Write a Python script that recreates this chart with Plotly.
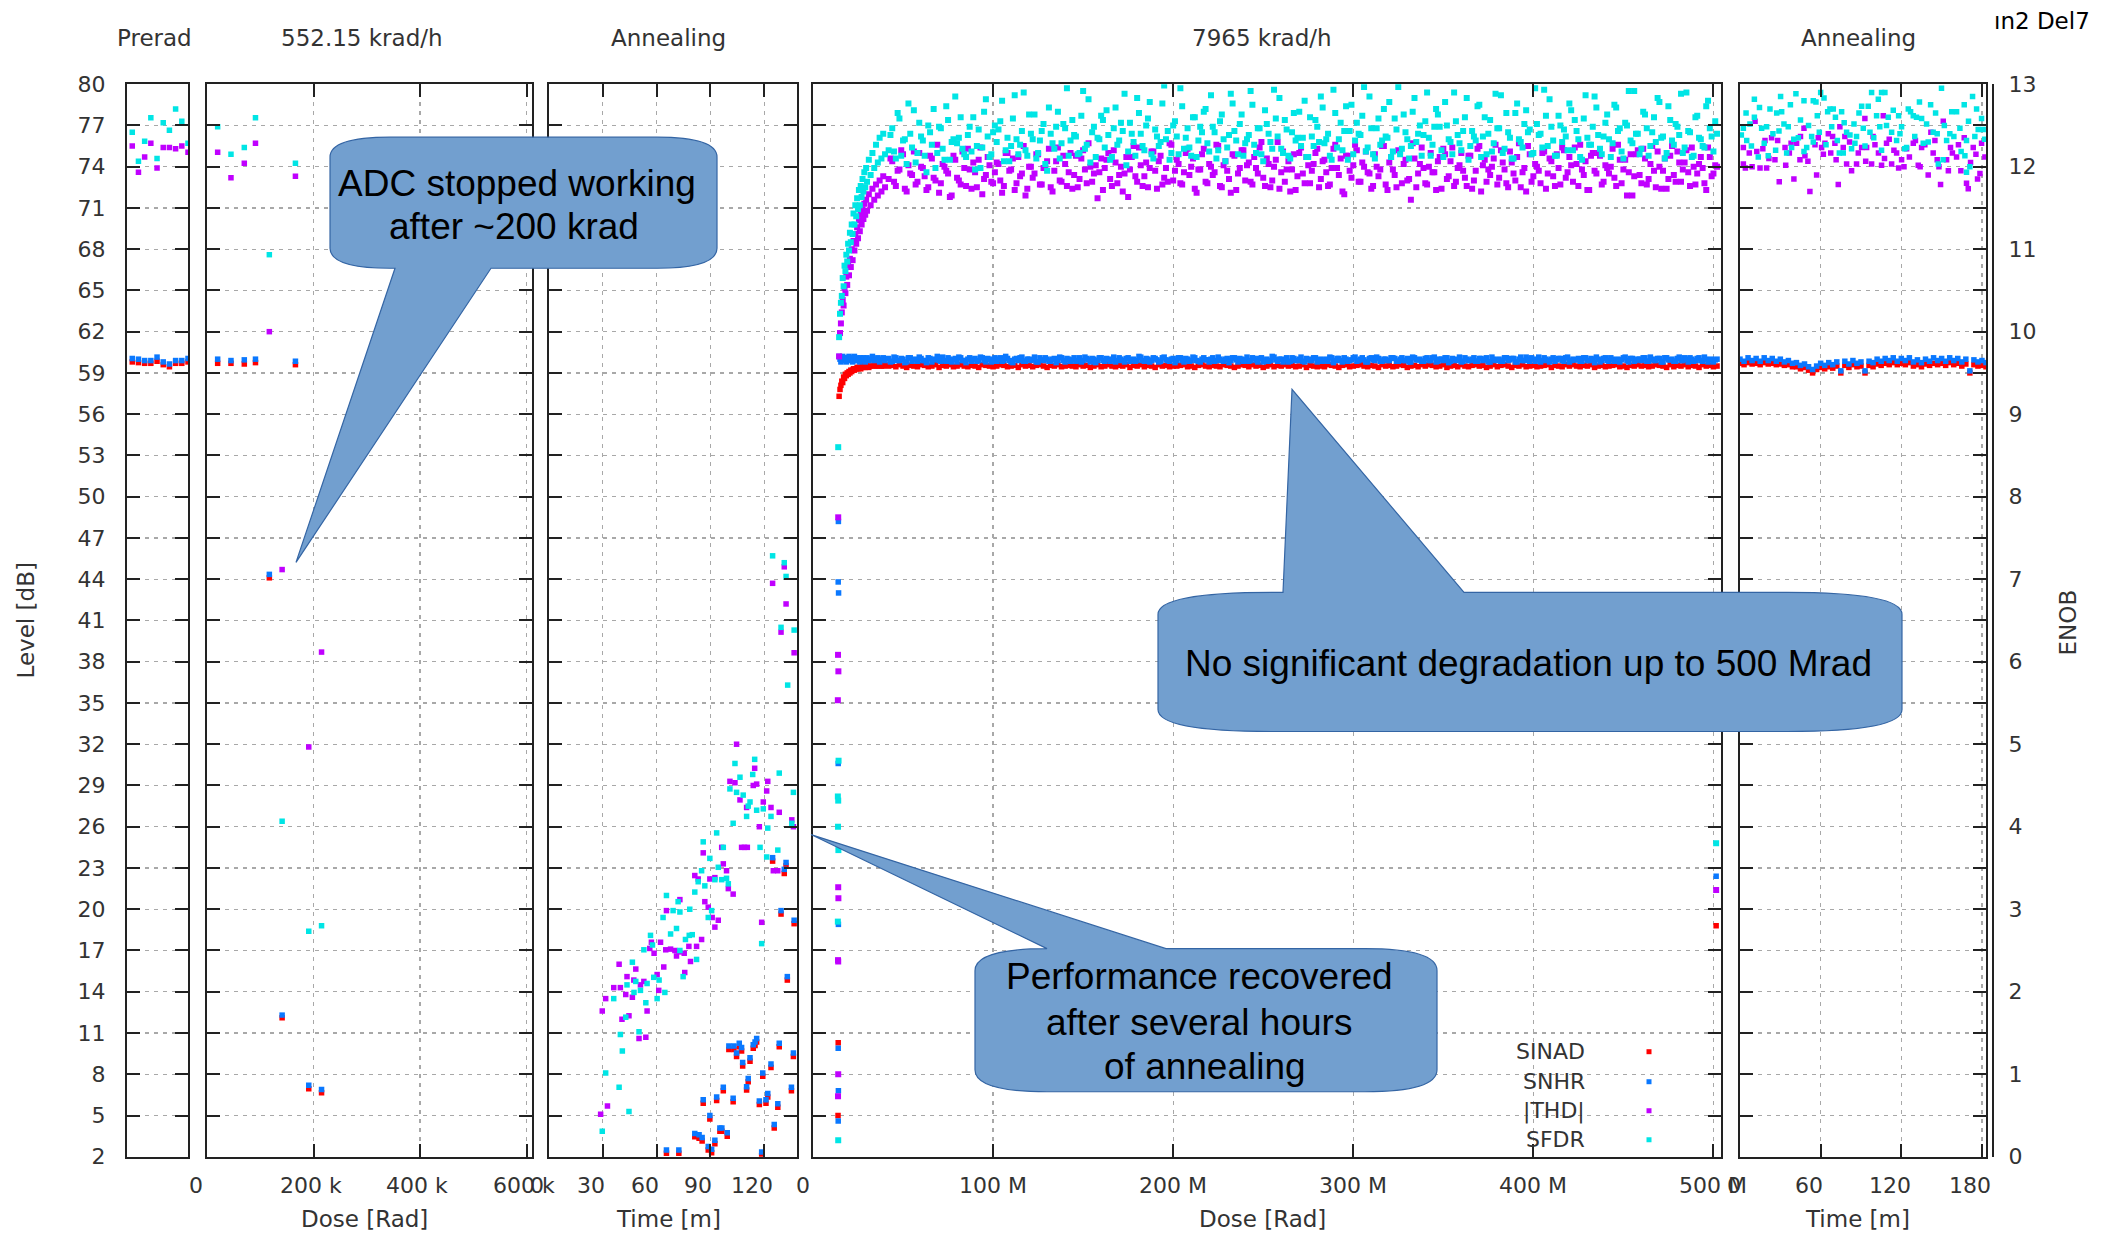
import plotly.graph_objects as go

# ---------------------------------------------------------------- data ----
SERIES = ["SINAD", "SNHR", "|THD|", "SFDR"]
COLORS = {"SINAD": "#ff0000", "SNHR": "#0a78ff", "|THD|": "#c000ff", "SFDR": "#00e5e5"}

level_ticks = [2, 5, 8, 11, 14, 17, 20, 23, 26, 29, 32, 35, 38, 41, 44, 47,
               50, 53, 56, 59, 62, 65, 68, 71, 74, 77, 80]
enob_ticks = [0, 1, 2, 3, 4, 5, 6, 7, 8, 9, 10, 11, 12, 13]

dose_lo_ticks = [0, 200, 400, 600]
dose_lo_labels = ["0", "200 k", "400 k", "600 k"]
ann1_ticks = [0, 30, 60, 90, 120]
ann1_labels = ["0", "30", "60", "90", "120"]
dose_hi_ticks = [0, 100, 200, 300, 400, 500]
dose_hi_labels = ["0", "100 M", "200 M", "300 M", "400 M", "500 M"]
ann2_ticks = [0, 60, 120, 180]
ann2_labels = ["0", "60", "120", "180"]

# pre-irradiation reference measurements (sample index)
prerad_idx = [1, 2, 3, 4, 5, 6, 7, 8, 9, 10]
prerad_sinad = [59.8, 59.75, 59.7, 59.7, 59.85, 59.6, 59.45, 59.7, 59.7, 59.8]
prerad_snhr = [60.05, 60.0, 59.9, 59.9, 60.15, 59.8, 59.65, 59.9, 59.9, 60.05]
prerad_thd = [75.5, 73.6, 74.7, 75.7, 73.9, 75.4, 75.4, 75.3, 75.5, 75.05]
prerad_sfdr = [76.5, 74.4, 75.85, 77.55, 74.6, 77.2, 76.65, 78.2, 77.3, 75.7]

# 552.15 krad/h run, dose in krad
lo_dose = [20, 45, 70, 91, 117, 141, 166, 191, 215]
lo_sinad = [59.7, 59.7, 59.65, 59.75, 44.1, 12.1, 59.6, 6.95, 6.65]
lo_snhr = [60.0, 59.9, 59.95, 60.0, 44.35, 12.3, 59.85, 7.2, 6.9]
lo_thd = [75.05, 73.2, 74.25, 75.7, 62.0, 44.7, 73.3, 31.8, 38.7]
lo_sfdr = [76.9, 74.9, 75.4, 77.55, 67.6, 26.4, 74.25, 18.4, 18.8]

# first annealing, (minutes, dB)
ann1_snhr = [(124.7, 23.75), (132.2, 23.4), (131.2, 22.9), (129.4, 19.9), (136.7, 19.2),
             (132.9, 15.1), (100.3, 10.05), (103.1, 10.05), (106.1, 10.25), (107.4, 9.95),
             (104.6, 9.55), (113.9, 10.15), (114.9, 10.35), (115.8, 10.6), (128.4, 10.25),
             (136.3, 9.55), (112.1, 9.2), (108.0, 8.85), (123.8, 8.75), (119.2, 8.1),
             (111.1, 7.7), (110.2, 7.1), (97.2, 7.05), (135.2, 7.05), (122.0, 6.6),
             (93.5, 6.35), (102.7, 6.25), (86.0, 6.15), (117.3, 6.05), (121.0, 6.15),
             (127.6, 5.85), (89.7, 5.0), (125.6, 4.35), (95.3, 4.1), (96.4, 4.1),
             (99.4, 3.75), (81.3, 3.7), (83.7, 3.6), (85.4, 3.4), (92.5, 3.2),
             (88.8, 2.75), (90.7, 2.55), (65.5, 2.5), (72.4, 2.5), (118.6, 2.35)]
ann1_sinad = [(124.7, 23.5), (132.2, 23.15), (131.2, 22.6), (129.4, 19.65), (136.7, 18.95),
              (132.9, 14.85), (100.3, 9.8), (103.1, 9.8), (106.1, 10.0), (107.4, 9.7),
              (104.6, 9.3), (113.9, 9.9), (114.9, 10.1), (115.8, 10.35), (128.4, 10.0),
              (136.3, 9.3), (112.1, 8.95), (108.0, 8.6), (123.8, 8.5), (119.2, 7.85),
              (111.1, 7.45), (110.2, 6.85), (97.2, 6.8), (135.2, 6.8), (122.0, 6.35),
              (93.5, 6.1), (102.7, 6.0), (86.0, 5.9), (117.3, 5.8), (121.0, 5.9),
              (127.6, 5.6), (89.7, 4.75), (125.6, 4.1), (95.3, 3.85), (96.4, 3.85),
              (99.4, 3.5), (81.3, 3.45), (83.7, 3.35), (85.4, 3.15), (92.5, 2.95),
              (88.8, 2.5), (90.7, 2.3), (65.5, 2.25), (72.4, 2.25), (118.6, 2.1)]
ann1_thd = [(131.2, 44.9), (124.7, 43.7), (132.2, 42.2), (129.4, 40.15), (136.7, 38.65),
            (104.6, 32.0), (114.7, 30.25), (100.9, 29.3), (103.7, 29.2), (113.9, 29.0),
            (115.8, 29.1), (122.0, 29.3), (121.4, 28.6), (106.5, 27.95), (119.5, 27.8),
            (110.2, 27.4), (123.8, 27.4), (128.4, 27.05), (135.4, 26.5), (136.3, 26.0),
            (117.3, 26.0), (96.3, 24.5), (107.4, 24.5), (109.0, 24.5), (110.6, 24.5),
            (86.0, 24.1), (97.2, 23.3), (99.0, 22.8), (81.3, 22.45), (83.2, 22.2),
            (89.7, 22.2), (92.5, 22.3), (125.1, 22.8), (127.6, 22.8), (100.0, 21.5),
            (102.7, 21.1), (73.0, 20.7), (86.9, 20.55), (65.5, 19.9), (88.8, 20.15),
            (91.0, 19.4), (94.4, 19.2), (92.5, 18.7), (85.1, 17.8), (118.6, 19.05),
            (57.1, 17.6), (62.2, 17.6), (56.2, 17.15), (65.1, 17.05), (67.8, 17.1),
            (70.2, 17.0), (72.6, 16.9), (71.1, 16.6), (75.4, 16.8), (78.0, 17.3),
            (82.3, 17.3), (78.9, 16.2), (58.6, 16.8), (39.1, 16.0), (48.4, 15.65),
            (64.0, 15.8), (75.7, 15.4), (60.3, 15.25), (43.5, 15.1), (47.3, 14.85),
            (52.9, 14.75), (51.0, 14.5), (36.1, 14.3), (39.8, 14.3), (42.8, 13.8),
            (46.5, 13.6), (61.2, 14.1), (31.6, 13.5), (29.7, 12.6), (40.7, 12.0),
            (44.6, 12.25), (54.7, 12.6), (50.2, 10.6), (54.0, 10.7), (32.6, 5.7),
            (28.8, 5.1)]
ann1_sfdr = [(124.7, 45.7), (131.2, 45.2), (132.2, 44.2), (129.4, 40.5), (136.7, 40.3),
             (133.1, 36.3), (103.7, 30.6), (114.7, 30.9), (106.5, 29.6), (113.6, 29.8),
             (128.4, 29.9), (100.9, 28.75), (104.6, 28.5), (108.3, 28.3), (112.1, 27.8),
             (136.3, 28.5), (111.1, 27.5), (115.8, 27.2), (119.5, 27.3), (110.2, 26.75),
             (123.8, 26.75), (102.7, 26.25), (135.4, 26.25), (122.0, 25.9), (93.5, 25.55),
             (86.0, 24.9), (97.2, 24.5), (117.7, 24.5), (127.6, 24.3), (89.7, 23.7),
             (121.4, 23.8), (94.4, 23.05), (85.1, 22.8), (83.2, 22.0), (86.9, 21.7),
             (92.5, 22.15), (96.3, 22.15), (99.0, 22.25), (100.0, 21.85), (81.3, 21.25),
             (65.5, 21.0), (72.0, 20.55), (69.2, 19.9), (78.5, 20.0), (73.0, 19.8),
             (90.7, 19.9), (63.6, 19.4), (88.8, 19.4), (71.1, 18.6), (56.6, 18.1),
             (67.8, 18.2), (76.1, 17.8), (79.9, 18.15), (78.2, 18.1), (57.7, 17.4),
             (52.9, 17.05), (73.0, 17.0), (82.3, 16.35), (46.5, 16.15), (58.4, 15.05),
             (61.4, 14.85), (43.5, 14.5), (48.4, 14.75), (74.8, 15.1), (47.4, 13.95),
             (51.0, 14.1), (54.7, 14.6), (36.1, 13.5), (64.6, 13.95), (54.0, 13.2),
             (60.3, 13.5), (42.8, 12.15), (39.8, 10.9), (50.2, 11.1), (40.9, 9.7),
             (31.6, 8.1), (39.1, 7.05), (44.6, 5.3), (29.7, 3.85), (118.6, 17.5)]

# 7965 krad/h run, dose in Mrad: recovery part
hi_rise_dose = [14.5, 15, 15.5, 16, 16.5, 17, 17.5, 18, 18.5, 19, 19.5, 20, 20.5, 21, 21.5, 22,
                22.5, 23, 23.5, 24, 24.5, 25, 25.5, 26, 26.5, 27, 27.5, 28, 28.5, 29, 29.5, 30,
                31, 32, 33, 34, 35, 36, 37, 38, 39, 40]
hi_rise_sinad = [57.3, 57.8, 58.1, 58.4, 58.3, 58.7, 58.6, 58.9, 58.8, 59.0, 58.9, 59.1, 59.0, 59.2,
                 59.1, 59.2, 59.3, 59.2, 59.3, 59.3, 59.4, 59.3, 59.4, 59.4, 59.3, 59.4, 59.5, 59.4,
                 59.5, 59.4, 59.5, 59.5, 59.4, 59.5, 59.5, 59.6, 59.5, 59.5, 59.6, 59.5, 59.5, 59.6]
hi_rise_snhr = [60.2, 60.0, 59.8, 60.1, 60.2, 59.9, 60.1, 60.0, 59.8, 60.1, 60.0, 60.2, 59.9, 60.0,
                60.1, 59.8, 60.0, 60.2, 59.9, 60.0, 60.1, 59.9, 60.0, 59.8, 60.1, 60.0, 59.9, 60.1,
                60.0, 59.8, 60.0, 60.1, 59.9, 60.0, 60.2, 59.9, 60.0, 60.1, 59.8, 60.0, 60.1, 59.9]
hi_rise_thd = [60.2, 61.9, 62.6, 63.4, 64.3, 63.9, 65.2, 64.8, 66.0, 65.4, 66.8, 66.1, 67.3, 66.7,
               68.0, 67.2, 68.6, 67.9, 69.1, 68.4, 69.6, 68.8, 70.1, 69.3, 70.5, 69.8, 70.9, 70.2,
               71.3, 70.5, 71.6, 70.8, 72.0, 71.2, 72.4, 71.6, 72.7, 71.9, 73.0, 72.2, 73.3, 72.5]
hi_rise_sfdr = [61.6, 63.3, 64.1, 64.6, 65.9, 65.3, 66.8, 66.4, 67.6, 67.1, 68.4, 67.9, 69.2, 68.5,
                69.8, 69.1, 70.6, 69.8, 71.2, 70.4, 71.7, 70.9, 72.3, 71.2, 72.6, 71.8, 73.1, 72.2,
                73.6, 72.5, 73.9, 72.9, 74.5, 73.4, 75.0, 73.9, 75.6, 74.3, 76.1, 74.6, 76.4, 74.9]

# 7965 krad/h run: steady part, even-dose sweeps
hi_dose = [42, 44, 46, 48, 50, 52, 54, 56, 58, 60,
           62, 64, 66, 68, 70, 72, 74, 76, 78, 80,
           82, 84, 86, 88, 90, 92, 94, 96, 98, 100,
           102, 104, 106, 108, 110, 112, 114, 116, 118, 120,
           122, 124, 126, 128, 130, 132, 134, 136, 138, 140,
           142, 144, 146, 148, 150, 152, 154, 156, 158, 160,
           162, 164, 166, 168, 170, 172, 174, 176, 178, 180,
           182, 184, 186, 188, 190, 192, 194, 196, 198, 200,
           202, 204, 206, 208, 210, 212, 214, 216, 218, 220,
           222, 224, 226, 228, 230, 232, 234, 236, 238, 240,
           242, 244, 246, 248, 250, 252, 254, 256, 258, 260,
           262, 264, 266, 268, 270, 272, 274, 276, 278, 280,
           282, 284, 286, 288, 290, 292, 294, 296, 298, 300,
           302, 304, 306, 308, 310, 312, 314, 316, 318, 320,
           322, 324, 326, 328, 330, 332, 334, 336, 338, 340,
           342, 344, 346, 348, 350, 352, 354, 356, 358, 360,
           362, 364, 366, 368, 370, 372, 374, 376, 378, 380,
           382, 384, 386, 388, 390, 392, 394, 396, 398, 400,
           402, 404, 406, 408, 410, 412, 414, 416, 418, 420,
           422, 424, 426, 428, 430, 432, 434, 436, 438, 440,
           442, 444, 446, 448, 450, 452, 454, 456, 458, 460,
           462, 464, 466, 468, 470, 472, 474, 476, 478, 480,
           482, 484, 486, 488, 490, 492, 494, 496, 498, 500,
           502]
hi_sinad = [59.5, 59.55, 59.45, 59.6, 59.5, 59.4, 59.55, 59.5, 59.45, 59.6,
            59.55, 59.45, 59.5, 59.6, 59.4, 59.55, 59.5, 59.6, 59.45, 59.5,
            59.6, 59.5, 59.45, 59.55, 59.5, 59.4, 59.6, 59.55, 59.5, 59.45,
            59.5, 59.6, 59.55, 59.45, 59.5, 59.55, 59.4, 59.6, 59.5, 59.55,
            59.45, 59.55, 59.6, 59.5, 59.4, 59.55, 59.5, 59.6, 59.45, 59.5,
            59.55, 59.5, 59.45, 59.6, 59.5, 59.55, 59.4, 59.5, 59.6, 59.45,
            59.5, 59.6, 59.5, 59.45, 59.55, 59.5, 59.6, 59.4, 59.55, 59.5,
            59.6, 59.45, 59.55, 59.5, 59.4, 59.6, 59.5, 59.55, 59.45, 59.5,
            59.5, 59.55, 59.6, 59.45, 59.5, 59.4, 59.55, 59.6, 59.5, 59.45,
            59.55, 59.5, 59.45, 59.6, 59.55, 59.5, 59.4, 59.5, 59.6, 59.55,
            59.45, 59.6, 59.5, 59.55, 59.4, 59.5, 59.6, 59.45, 59.55, 59.5,
            59.6, 59.5, 59.55, 59.45, 59.5, 59.6, 59.4, 59.55, 59.5, 59.45,
            59.5, 59.45, 59.6, 59.55, 59.5, 59.4, 59.55, 59.6, 59.45, 59.5,
            59.55, 59.6, 59.5, 59.45, 59.55, 59.5, 59.4, 59.6, 59.5, 59.55,
            59.45, 59.5, 59.6, 59.55, 59.4, 59.5, 59.55, 59.45, 59.6, 59.5,
            59.6, 59.55, 59.45, 59.5, 59.6, 59.4, 59.5, 59.55, 59.45, 59.6,
            59.5, 59.45, 59.55, 59.6, 59.5, 59.55, 59.4, 59.5, 59.6, 59.45,
            59.55, 59.6, 59.5, 59.4, 59.55, 59.5, 59.6, 59.45, 59.5, 59.55,
            59.45, 59.5, 59.55, 59.6, 59.4, 59.55, 59.5, 59.45, 59.6, 59.5,
            59.6, 59.5, 59.45, 59.55, 59.5, 59.6, 59.4, 59.5, 59.55, 59.45,
            59.5, 59.55, 59.6, 59.45, 59.5, 59.4, 59.55, 59.5, 59.6, 59.5,
            59.55, 59.45, 59.5, 59.6, 59.55, 59.5, 59.4, 59.6, 59.45, 59.55,
            59.5, 59.6, 59.45, 59.55, 59.5, 59.4, 59.6, 59.5, 59.55, 59.45,
            59.5]
hi_snhr = [60.05, 59.85, 60.1, 59.9, 60.0, 59.8, 60.1, 59.95, 59.85, 60.05,
           59.9, 60.1, 59.8, 60.0, 59.9, 60.15, 59.85, 60.0, 59.95, 59.8,
           60.1, 59.9, 60.0, 59.85, 60.05, 59.9, 60.1, 59.8, 60.0, 59.95,
           59.85, 60.1, 59.9, 60.05, 59.8, 60.0, 59.9, 60.15, 59.85, 60.0,
           59.95, 59.8, 60.1, 59.9, 60.0, 59.85, 60.05, 59.9, 60.1, 59.8,
           60.0, 59.95, 59.85, 60.1, 59.9, 60.05, 59.8, 60.0, 59.9, 60.1,
           59.85, 60.0, 59.95, 59.8, 60.1, 59.9, 60.05, 59.85, 60.0, 59.9,
           60.15, 59.85, 60.0, 59.9, 60.05, 59.8, 60.1, 59.95, 59.85, 60.05,
           59.9, 60.1, 59.8, 60.0, 59.9, 60.1, 59.85, 60.0, 59.95, 59.8,
           60.1, 59.9, 60.0, 59.85, 60.05, 59.9, 60.1, 59.8, 60.0, 59.95,
           59.85, 60.1, 59.9, 60.05, 59.8, 60.0, 59.9, 60.15, 59.85, 60.0,
           59.95, 59.8, 60.1, 59.9, 60.0, 59.85, 60.05, 59.9, 60.1, 59.8,
           60.0, 59.95, 59.85, 60.1, 59.9, 60.05, 59.8, 60.0, 59.9, 60.1,
           59.85, 60.0, 59.95, 59.8, 60.1, 59.9, 60.05, 59.85, 60.0, 59.9,
           60.1, 59.85, 60.0, 59.9, 60.05, 59.8, 60.1, 59.95, 59.85, 60.05,
           59.9, 60.1, 59.8, 60.0, 59.9, 60.1, 59.85, 60.0, 59.95, 59.8,
           60.1, 59.9, 60.0, 59.85, 60.05, 59.9, 60.1, 59.8, 60.0, 59.95,
           59.85, 60.1, 59.9, 60.05, 59.8, 60.0, 59.9, 60.15, 59.85, 60.0,
           59.95, 59.8, 60.1, 59.9, 60.0, 59.85, 60.05, 59.9, 60.1, 59.8,
           60.0, 59.95, 59.85, 60.1, 59.9, 60.05, 59.75, 60.0, 59.9, 60.1,
           59.85, 60.0, 59.95, 59.8, 60.1, 59.9, 60.05, 59.85, 60.0, 59.9,
           60.1, 59.85, 60.0, 59.9, 60.05, 59.8, 60.1, 59.95, 59.85, 60.05,
           59.9, 60.1, 59.8, 60.0, 59.9, 60.1, 59.85, 60.0, 59.95, 59.8,
           60.0]
hi_thd = [73.1, 74.4, 72.6, 73.8, 74.9, 72.2, 73.5, 75.1, 72.9, 74.0,
          73.3, 72.5, 74.6, 73.0, 72.1, 74.2, 73.7, 71.8, 74.8, 73.2,
          72.7, 73.9, 75.3, 72.4, 73.6, 74.5, 72.0, 73.4, 74.1, 72.8,
          74.3, 73.0, 72.6, 75.0, 73.8, 72.3, 74.7, 73.5, 71.9, 74.0,
          73.2, 74.9, 72.7, 73.9, 74.4, 72.5, 73.7, 75.4, 72.9, 74.2,
          73.6, 72.4, 74.8, 73.1, 75.2, 72.8, 74.0, 73.5, 71.7, 74.6,
          73.9, 75.0, 72.6, 74.3, 73.4, 72.2, 74.7, 73.8, 75.5, 72.9,
          74.1, 73.3, 72.5, 75.1, 73.7, 74.4, 72.7, 73.9, 75.7, 73.0,
          74.5, 72.8, 73.6, 75.3, 74.0, 72.4, 73.8, 74.9, 72.9, 74.2,
          73.4, 75.6, 72.6, 74.1, 73.7, 72.1, 74.8, 73.5, 75.2, 73.0,
          74.3, 72.7, 73.9, 75.4, 73.2, 74.6, 72.5, 74.0, 75.8, 73.6,
          72.9, 74.4, 73.8, 72.3, 75.0, 73.5, 74.7, 72.8, 74.2, 75.3,
          73.1, 74.5, 72.6, 73.9, 75.6, 73.4, 72.2, 74.8, 73.7, 74.1,
          75.2, 72.9, 74.0, 73.6, 72.4, 74.9, 73.3, 75.5, 72.7, 74.3,
          73.8, 72.5, 75.1, 74.2, 73.0, 71.6, 74.6, 73.5, 75.4, 72.8,
          74.0, 73.6, 72.3, 74.7, 75.3, 73.1, 74.4, 72.6, 73.9, 75.0,
          73.2, 74.8, 72.4, 73.7, 75.5, 74.1, 72.9, 73.4, 74.6, 72.7,
          75.2, 73.8, 72.5, 74.3, 73.0, 75.7, 73.6, 72.2, 74.9, 73.3,
          74.0, 72.8, 75.1, 73.5, 74.4, 72.6, 73.9, 75.4, 73.2, 74.7,
          72.9, 74.2, 75.6, 73.4, 72.3, 74.8, 73.7, 75.0, 72.7, 74.1,
          73.5, 75.3, 72.6, 74.5, 73.8, 71.9, 74.9, 73.3, 75.2, 72.8,
          74.6, 73.1, 75.5, 72.5, 74.0, 73.7, 72.4, 74.8, 73.4, 75.1,
          72.9, 74.3, 73.6, 75.4, 72.7, 74.2, 73.9, 72.3, 74.7, 73.5,
          74.0]
hi_sfdr = [75.2, 76.8, 74.6, 77.5, 75.9, 74.2, 76.4, 78.1, 75.0, 76.2,
           74.8, 77.0, 75.6, 73.9, 76.9, 75.3, 78.4, 74.5, 76.0, 75.7,
           77.6, 74.9, 76.3, 75.1, 73.8, 76.7, 75.4, 78.9, 74.7, 76.5,
           75.8, 77.3, 74.4, 76.1, 75.5, 79.2, 74.9, 76.6, 75.2, 77.8,
           76.0, 74.6, 75.9, 77.1, 73.7, 76.4, 75.3, 78.0, 75.7, 76.8,
           74.8, 77.4, 76.2, 75.0, 79.5, 75.6, 74.3, 76.9, 76.1, 77.7,
           75.4, 76.3, 74.7, 78.3, 75.9, 76.6, 74.1, 77.2, 75.8, 79.0,
           76.4, 75.2, 77.5, 74.9, 76.7, 75.5, 78.6, 76.0, 74.5, 77.0,
           76.2, 79.7, 75.3, 76.8, 74.8, 77.6, 75.9, 76.5, 78.2, 75.1,
           76.9, 74.6, 77.3, 76.0, 75.4, 79.3, 76.6, 74.9, 77.8, 75.7,
           76.3, 78.5, 75.0, 76.8, 74.4, 77.1, 75.8, 79.6, 76.2, 75.3,
           77.4, 74.8, 76.5, 75.9, 78.0, 76.1, 74.7, 77.6, 75.5, 76.9,
           79.1, 75.7, 76.4, 74.5, 77.9, 76.0, 75.2, 78.4, 76.6, 74.9,
           77.2, 76.3, 79.8, 75.4, 76.8, 74.6, 77.5, 75.9, 76.2, 78.7,
           75.1, 76.7, 74.9, 77.8, 76.0, 75.5, 79.0, 76.4, 74.8, 77.3,
           76.1, 75.6, 78.2, 76.9, 74.7, 77.0, 75.8, 79.4, 76.3, 75.2,
           77.6, 74.5, 76.6, 75.9, 78.5, 76.2, 74.9, 77.4, 75.7, 76.8,
           79.2, 75.3, 76.5, 74.6, 77.9, 76.0, 75.4, 78.1, 76.7, 75.0,
           77.1, 76.4, 79.6, 75.5, 76.9, 74.8, 77.7, 75.8, 76.2, 78.6,
           75.2, 76.6, 74.7, 77.5, 76.1, 75.6, 79.1, 76.3, 74.9, 77.2,
           76.0, 75.7, 78.3, 76.8, 74.6, 77.0, 75.9, 79.5, 76.4, 75.3,
           77.8, 74.8, 76.5, 75.8, 78.7, 76.2, 75.0, 77.4, 75.6, 76.9,
           79.3, 75.4, 76.6, 74.7, 77.6, 76.1, 75.5, 78.4, 76.8, 75.1,
           76.4]

# 7965 krad/h run: steady part, odd-dose sweeps
hi_dose_b = [43, 45, 47, 49, 51, 53, 55, 57, 59, 61,
             63, 65, 67, 69, 71, 73, 75, 77, 79, 81,
             83, 85, 87, 89, 91, 93, 95, 97, 99, 101,
             103, 105, 107, 109, 111, 113, 115, 117, 119, 121,
             123, 125, 127, 129, 131, 133, 135, 137, 139, 141,
             143, 145, 147, 149, 151, 153, 155, 157, 159, 161,
             163, 165, 167, 169, 171, 173, 175, 177, 179, 181,
             183, 185, 187, 189, 191, 193, 195, 197, 199, 201,
             203, 205, 207, 209, 211, 213, 215, 217, 219, 221,
             223, 225, 227, 229, 231, 233, 235, 237, 239, 241,
             243, 245, 247, 249, 251, 253, 255, 257, 259, 261,
             263, 265, 267, 269, 271, 273, 275, 277, 279, 281,
             283, 285, 287, 289, 291, 293, 295, 297, 299, 301,
             303, 305, 307, 309, 311, 313, 315, 317, 319, 321,
             323, 325, 327, 329, 331, 333, 335, 337, 339, 341,
             343, 345, 347, 349, 351, 353, 355, 357, 359, 361,
             363, 365, 367, 369, 371, 373, 375, 377, 379, 381,
             383, 385, 387, 389, 391, 393, 395, 397, 399, 401,
             403, 405, 407, 409, 411, 413, 415, 417, 419, 421,
             423, 425, 427, 429, 431, 433, 435, 437, 439, 441,
             443, 445, 447, 449, 451, 453, 455, 457, 459, 461,
             463, 465, 467, 469, 471, 473, 475, 477, 479, 481,
             483, 485, 487, 489, 491, 493, 495, 497, 499, 501]
hi_snhr_b = [59.8, 60.15, 59.9, 60.05, 59.75, 60.1, 59.85, 60.0, 60.15, 59.9,
             59.75, 60.05, 59.95, 60.2, 59.85, 59.9, 60.1, 59.8, 60.05, 60.15,
             59.9, 59.75, 60.1, 60.0, 59.85, 60.15, 59.9, 60.05, 59.8, 60.1,
             60.0, 59.85, 60.2, 59.9, 59.75, 60.05, 60.1, 59.85, 60.0, 59.9,
             60.15, 59.8, 59.95, 60.1, 59.85, 60.0, 59.75, 60.15, 59.9, 60.05,
             59.85, 60.1, 59.9, 59.8, 60.15, 59.95, 60.05, 59.75, 60.1, 59.9,
             60.05, 59.85, 60.15, 59.9, 60.0, 59.8, 60.1, 59.95, 59.85, 60.2,
             59.9, 60.05, 59.8, 60.1, 59.95, 59.85, 60.15, 59.9, 60.0, 59.75,
             60.1, 59.9, 60.05, 59.85, 60.15, 59.9, 59.8, 60.1, 59.95, 60.0,
             59.85, 60.15, 59.9, 60.0, 59.75, 60.1, 59.95, 60.05, 59.85, 60.15,
             59.9, 60.05, 59.8, 60.1, 59.9, 59.85, 60.2, 59.95, 60.0, 59.8,
             60.1, 59.85, 60.05, 59.9, 60.15, 59.8, 60.0, 59.9, 60.1, 59.95,
             59.85, 60.0, 60.15, 59.75, 60.05, 59.9, 60.1, 59.85, 59.95, 60.15,
             59.9, 60.1, 59.8, 60.05, 59.95, 60.15, 59.85, 60.0, 59.9, 60.1,
             60.05, 59.85, 60.1, 59.9, 59.8, 60.15, 59.95, 60.0, 59.85, 60.1,
             59.9, 60.15, 59.85, 60.0, 60.1, 59.75, 60.05, 59.9, 60.15, 59.85,
             60.0, 59.9, 60.1, 59.85, 60.05, 59.95, 59.8, 60.15, 59.9, 60.0,
             59.85, 60.1, 59.95, 60.05, 59.8, 60.15, 59.9, 60.0, 60.1, 59.85,
             60.15, 59.9, 60.0, 59.8, 60.1, 59.95, 60.05, 59.85, 60.15, 59.9,
             59.95, 60.05, 59.85, 60.1, 59.9, 60.0, 60.15, 59.8, 60.05, 59.9,
             60.1, 59.85, 60.0, 59.95, 60.15, 59.8, 60.05, 59.9, 60.0, 60.1,
             59.85, 60.15, 59.9, 60.05, 59.8, 60.1, 59.95, 60.0, 59.85, 60.15,
             59.9, 60.0, 60.1, 59.85, 60.05, 59.9, 60.15, 59.8, 60.0, 59.95]
hi_thd_b = [74.6, 72.9, 73.7, 75.2, 72.4, 74.1, 73.4, 72.7, 75.0, 73.9,
            72.3, 74.8, 73.2, 75.6, 72.8, 74.0, 73.5, 71.9, 74.5, 73.0,
            75.1, 72.6, 73.8, 74.3, 72.5, 75.4, 73.1, 74.7, 72.9, 73.6,
            74.2, 72.1, 75.0, 73.7, 74.6, 72.8, 73.3, 75.5, 72.4, 74.0,
            73.5, 74.9, 72.7, 73.9, 75.3, 72.2, 74.4, 73.0, 74.8, 72.6,
            75.0, 73.4, 72.5, 74.6, 73.8, 75.7, 72.9, 74.1, 73.6, 72.3,
            74.5, 73.1, 75.2, 72.8, 74.0, 73.5, 71.8, 74.7, 73.3, 75.4,
            72.6, 74.3, 73.9, 75.1, 72.4, 74.8, 73.2, 72.9, 75.6, 73.7,
            74.2, 72.7, 75.0, 73.4, 74.6, 72.1, 73.8, 75.3, 72.8, 74.0,
            73.6, 75.5, 72.5, 74.4, 73.1, 74.9, 72.3, 73.9, 75.2, 74.1,
            72.9, 74.7, 73.5, 75.8, 72.6, 74.2, 73.0, 74.5, 72.4, 75.1,
            73.8, 72.2, 74.9, 73.3, 75.4, 72.8, 74.1, 73.7, 75.0, 72.5,
            74.4, 73.6, 72.7, 75.3, 73.9, 74.6, 72.0, 74.8, 73.2, 75.6,
            72.9, 74.3, 75.1, 73.5, 72.6, 74.0, 73.8, 75.5, 72.3, 74.7,
            73.4, 75.2, 72.8, 74.5, 73.1, 75.7, 72.5, 74.2, 73.9, 72.7,
            75.0, 73.6, 74.4, 72.4, 74.9, 73.3, 75.4, 72.9, 74.1, 73.7,
            72.6, 74.8, 73.0, 75.3, 72.2, 74.5, 73.8, 74.0, 75.6, 73.2,
            74.3, 72.8, 75.1, 73.5, 74.7, 72.5, 73.9, 75.5, 72.9, 74.2,
            73.7, 75.0, 72.4, 74.6, 73.3, 74.9, 72.7, 75.2, 73.6, 74.1,
            75.4, 72.6, 73.8, 74.4, 72.3, 75.0, 73.5, 74.8, 72.9, 73.9,
            74.0, 73.2, 75.6, 72.8, 74.5, 73.6, 71.9, 74.9, 73.4, 75.3,
            72.7, 74.2, 73.7, 75.1, 72.4, 74.6, 73.1, 75.5, 72.9, 74.3,
            73.8, 75.2, 72.6, 74.0, 73.5, 74.7, 72.8, 75.4, 73.3, 74.1]
hi_sfdr_b = [76.3, 75.1, 77.9, 74.8, 76.0, 78.6, 75.4, 74.3, 77.2, 75.9,
             73.6, 76.5, 78.2, 75.0, 76.8, 74.5, 77.4, 75.8, 79.1, 76.1,
             75.3, 74.7, 76.9, 77.6, 75.5, 73.9, 78.0, 76.2, 74.9, 77.0,
             76.7, 78.8, 75.2, 74.4, 77.5, 76.0, 75.6, 79.4, 74.8, 76.4,
             77.8, 75.0, 76.6, 74.2, 78.3, 75.7, 76.9, 74.6, 77.1, 79.7,
             75.9, 76.3, 74.9, 77.7, 75.3, 78.9, 76.5, 74.7, 76.0, 77.4,
             78.1, 74.5, 76.8, 75.6, 77.2, 79.3, 75.1, 76.4, 74.8, 77.9,
             75.5, 77.0, 78.7, 74.6, 76.2, 75.8, 79.9, 76.6, 75.0, 77.3,
             74.9, 78.4, 76.1, 75.4, 77.6, 74.7, 76.9, 78.0, 75.7, 79.2,
             76.5, 75.2, 77.8, 74.4, 76.3, 78.6, 75.9, 77.1, 74.8, 76.0,
             79.5, 75.6, 76.8, 74.9, 78.1, 76.4, 75.3, 77.5, 79.0, 75.0,
             76.7, 74.6, 77.9, 76.1, 75.5, 78.8, 74.7, 76.2, 77.4, 75.8,
             78.3, 76.0, 74.8, 79.6, 75.4, 77.2, 76.6, 74.5, 78.5, 75.9,
             76.4, 77.7, 75.1, 79.1, 74.9, 76.8, 75.6, 78.2, 76.1, 74.7,
             77.5, 79.8, 75.3, 76.5, 74.6, 78.0, 75.8, 77.0, 76.3, 79.4,
             74.8, 76.9, 77.8, 75.2, 78.7, 76.0, 74.9, 77.3, 75.7, 76.6,
             79.0, 75.5, 76.2, 78.4, 74.7, 77.6, 76.4, 75.1, 79.3, 76.8,
             75.0, 77.9, 76.1, 74.6, 78.6, 75.8, 77.1, 76.5, 74.9, 79.7,
             76.3, 75.4, 77.7, 78.9, 75.9, 74.8, 77.0, 76.7, 75.2, 78.1,
             77.4, 76.0, 74.5, 79.2, 75.6, 76.9, 78.3, 75.3, 76.2, 77.8,
             74.7, 78.5, 76.6, 75.1, 77.2, 79.5, 75.7, 76.4, 74.9, 78.0,
             76.8, 75.5, 77.6, 79.0, 76.1, 74.6, 78.4, 75.9, 77.1, 76.3,
             75.0, 79.4, 76.5, 74.8, 77.7, 76.0, 75.4, 78.8, 76.2, 77.3]

# 7965 krad/h run: first (still recovering) sweep and the last sweep, (Mrad, dB)
hi_first_sinad = [(14.0, 10.3), (13.9, 5.0)]
hi_first_snhr = [(14.1, 48.2), (14.0, 43.8), (14.2, 43.0), (14.0, 30.6), (14.1, 18.9),
                 (14.0, 9.9), (14.1, 6.8), (14.0, 4.6)]
hi_first_thd = [(14.0, 48.5), (13.9, 38.5), (14.1, 37.3), (13.8, 35.2), (14.0, 21.6),
                (14.1, 20.8), (13.9, 16.3), (14.0, 16.2), (14.0, 8.0), (13.9, 6.4)]
hi_first_sfdr = [(14.0, 53.6), (14.2, 30.8), (13.8, 28.2), (14.0, 27.9), (13.9, 26.0),
                 (14.1, 24.3), (13.8, 19.1), (14.0, 3.2)]
hi_last_dose = 501.5
hi_last = {"SINAD": 18.8, "SNHR": 22.4, "|THD|": 21.4, "SFDR": 24.8}

# second annealing
ann2_time = [0, 3, 6, 9, 12, 15, 18, 21, 24, 27, 30, 33, 36, 39, 42, 45, 48, 51, 54, 57,
             60, 63, 66, 69, 72, 75, 78, 81, 84, 87, 90, 93, 96, 99, 102, 105, 108, 111,
             114, 117, 120, 123, 126, 129, 132, 135, 138, 141, 144, 147, 150, 153, 156,
             159, 162, 165, 168, 171, 174, 177, 180, 183]
ann2_snhr = [60.0, 59.85, 60.1, 59.9, 60.05, 59.85, 60.1, 59.9, 60.05, 59.85,
             60.0, 59.8, 59.9, 59.7, 59.75, 59.55, 59.65, 59.45, 59.25, 59.5,
             59.7, 59.55, 59.75, 59.6, 59.8, 59.15, 59.85, 59.65, 59.9, 59.7,
             59.8, 59.15, 59.85, 59.75, 60.0, 59.85, 60.05, 59.9, 60.1, 59.85,
             60.05, 59.9, 60.1, 59.8, 59.95, 59.75, 60.0, 59.85, 60.1, 59.9,
             60.05, 59.85, 60.1, 59.9, 60.05, 59.8, 60.0, 59.15, 59.95, 59.8,
             59.9, 59.75]
ann2_sinad = [59.7, 59.6, 59.75, 59.65, 59.7, 59.6, 59.75, 59.65, 59.7, 59.6,
              59.65, 59.55, 59.6, 59.45, 59.45, 59.3, 59.4, 59.2, 59.0, 59.25,
              59.4, 59.3, 59.45, 59.35, 59.5, 59.0, 59.55, 59.4, 59.6, 59.45,
              59.5, 59.0, 59.55, 59.45, 59.65, 59.55, 59.7, 59.6, 59.75, 59.6,
              59.7, 59.6, 59.75, 59.5, 59.6, 59.45, 59.65, 59.55, 59.7, 59.6,
              59.7, 59.55, 59.75, 59.6, 59.7, 59.5, 59.65, 59.0, 59.6, 59.5,
              59.55, 59.45]
ann2_thd = [(2.5, 75.4), (2.5, 74.2), (6.9, 75.0), (11.2, 77.3), (14.9, 73.9), (18.6, 75.9),
            (19.8, 73.9), (23.5, 76.1), (26.0, 74.5), (29.2, 72.9), (33.5, 75.4), (36.7, 75.0),
            (40.1, 73.1), (42.1, 75.7), (44.6, 74.5), (47.6, 76.8), (48.3, 74.8), (52.0, 72.2),
            (55.8, 75.6), (58.2, 76.1), (60.7, 75.4), (63.2, 75.7), (65.7, 76.4), (68.9, 76.2),
            (70.6, 75.7), (73.1, 72.7), (74.3, 76.9), (76.8, 75.4), (79.3, 74.2), (83.0, 73.7),
            (86.7, 74.2), (90.5, 75.4), (92.9, 77.5), (94.2, 75.4), (97.9, 74.2), (100.4, 75.6),
            (105.3, 74.1), (106.6, 77.7), (109.0, 75.7), (112.8, 74.2), (116.5, 75.0), (120.2, 74.5),
            (123.9, 75.3), (128.9, 75.7), (132.6, 74.1), (135.1, 75.4), (140.0, 73.4), (142.0, 76.5),
            (143.7, 75.0), (146.7, 74.5), (149.2, 72.7), (151.2, 77.3), (153.7, 74.5), (156.6, 75.4),
            (161.1, 74.7), (164.3, 73.7), (166.8, 76.1), (168.5, 72.8), (169.8, 72.4), (173.5, 75.4),
            (176.7, 73.1), (179.7, 75.7), (182.2, 74.7),
            (4.0, 73.9), (9.0, 74.0), (12.5, 75.1), (17.0, 75.3), (21.5, 74.6), (28.0, 75.9),
            (34.0, 74.1), (38.0, 75.7), (45.0, 76.2), (50.5, 74.4), (57.0, 73.4), (62.0, 74.9),
            (67.5, 75.0), (71.5, 74.5), (78.0, 76.2), (81.5, 75.8), (88.0, 75.0), (93.5, 74.4),
            (99.0, 76.2), (103.0, 75.0), (107.5, 74.6), (111.0, 76.0), (114.5, 75.2), (118.0, 73.9),
            (122.0, 74.0), (126.0, 74.7), (130.5, 75.9), (134.0, 74.0), (137.5, 75.6), (145.0, 75.9),
            (148.0, 74.0), (155.0, 73.7), (158.0, 75.0), (162.5, 75.6), (171.5, 74.3), (175.5, 74.9),
            (178.5, 73.5)]
ann2_sfdr = [(2.5, 76.8), (7.4, 77.1), (10.7, 78.9), (10.7, 77.6), (16.1, 76.8), (19.8, 76.9),
             (22.3, 78.2), (27.3, 77.9), (30.2, 79.1), (31.0, 78.0), (32.7, 77.1), (35.9, 76.9),
             (41.6, 79.3), (43.4, 76.1), (47.6, 78.8), (47.6, 75.1), (53.3, 76.2), (54.5, 78.8),
             (56.5, 78.7), (57.5, 77.7), (60.0, 79.4), (62.5, 79.0), (65.2, 78.0), (66.9, 78.2),
             (68.2, 76.9), (69.4, 78.2), (72.4, 75.9), (75.6, 78.0), (79.3, 76.5), (81.8, 76.3),
             (84.8, 77.1), (86.7, 76.2), (90.5, 78.4), (91.7, 76.8), (95.4, 78.4), (96.7, 76.5),
             (97.9, 79.4), (101.6, 77.7), (102.9, 78.9), (105.3, 79.4), (107.8, 79.4), (109.0, 77.0),
             (110.3, 77.6), (112.8, 76.5), (116.5, 75.9), (119.0, 76.4), (120.2, 76.9), (125.2, 78.2),
             (126.9, 78.0), (128.9, 77.7), (131.3, 77.6), (135.1, 77.5), (138.8, 77.1), (141.8, 78.5),
             (143.7, 76.5), (146.7, 76.4), (149.9, 79.7), (153.7, 75.9), (156.1, 76.4), (159.1, 76.2),
             (161.1, 78.0), (163.6, 76.8), (166.8, 78.5), (168.5, 75.9), (171.0, 74.0), (173.0, 79.1),
             (174.7, 76.2), (177.2, 76.7), (179.7, 77.5), (180.9, 76.7),
             (5.0, 75.9), (13.6, 74.7), (21.0, 74.8), (34.7, 75.0), (38.4, 75.4), (49.6, 75.4),
             (54.5, 75.8), (73.9, 75.0), (76.8, 75.0), (83.0, 75.3), (105.3, 75.2), (123.9, 75.4),
             (136.3, 75.7), (147.5, 74.2), (151.1, 74.5), (167.3, 74.8), (168.5, 73.6),
             (1.0, 76.3), (4.5, 77.9), (8.5, 75.5), (14.5, 78.3), (18.0, 75.7), (24.5, 76.4),
             (26.5, 75.2), (29.0, 76.6), (37.5, 78.5), (40.0, 76.0), (45.0, 77.4), (51.0, 77.0),
             (59.0, 76.5), (64.0, 75.6), (71.0, 77.6), (77.5, 77.2), (85.5, 75.7), (88.5, 77.9),
             (93.0, 75.5), (99.5, 76.1), (104.0, 76.9), (114.0, 78.1), (118.0, 77.7), (122.5, 75.3),
             (130.0, 76.2), (133.5, 78.7), (140.0, 75.8), (145.5, 77.9), (152.0, 77.0), (157.5, 78.0),
             (164.5, 75.1), (170.0, 77.3), (176.0, 78.2), (182.0, 76.0)]

for name, arr, ref in [("hi_rise_sinad", hi_rise_sinad, hi_rise_dose),
                       ("hi_rise_snhr", hi_rise_snhr, hi_rise_dose),
                       ("hi_rise_thd", hi_rise_thd, hi_rise_dose),
                       ("hi_rise_sfdr", hi_rise_sfdr, hi_rise_dose),
                       ("hi_sinad", hi_sinad, hi_dose), ("hi_snhr", hi_snhr, hi_dose),
                       ("hi_thd", hi_thd, hi_dose), ("hi_sfdr", hi_sfdr, hi_dose),
                       ("hi_snhr_b", hi_snhr_b, hi_dose_b), ("hi_thd_b", hi_thd_b, hi_dose_b),
                       ("hi_sfdr_b", hi_sfdr_b, hi_dose_b),
                       ("ann2_snhr", ann2_snhr, ann2_time), ("ann2_sinad", ann2_sinad, ann2_time)]:
    assert len(arr) == len(ref), (name, len(arr), len(ref))

# ------------------------------------------------------------ layout ----
W, H = 2106, 1242
TOP, BOT = 84, 1156
AX = "#222222"
GRID = "#a8a8a8"
TXT = "#333333"
FONT = "DejaVu Sans"
CALLOUT_FONT = "Liberation Sans"
MS = 5.5          # marker size in the sparse panels
MS_CLOUD = 6.0    # marker size for the dense 7965 krad/h sweeps

# vertical placement: the page is photographed slightly squeezed in height,
# so intended pixel rows are pre-stretched about the page centre
Y_OFF, Y_SCALE = 11.9, 0.9793


def fx(x):
    return x / W


def ypix(y):
    return (y - Y_OFF) / Y_SCALE


def fy(y):
    return 1 - ypix(y) / H


def fy_raw(y):
    return 1 - y / H


panel_px = [(127, 188), (207, 532), (549, 797), (813, 1721), (1740, 1986)]
x_ranges = [[0.15, 10.0], [0, 610], [0, 138.3], [0, 504.2], [0, 183]]
x_tickvals = [[], dose_lo_ticks, ann1_ticks, dose_hi_ticks, ann2_ticks]


def unzip(pairs):
    return [p[0] for p in pairs], [p[1] for p in pairs]


panel_series = {
    1: {"SINAD": (prerad_idx, prerad_sinad), "SNHR": (prerad_idx, prerad_snhr),
        "|THD|": (prerad_idx, prerad_thd), "SFDR": (prerad_idx, prerad_sfdr)},
    2: {"SINAD": (lo_dose, lo_sinad), "SNHR": (lo_dose, lo_snhr),
        "|THD|": (lo_dose, lo_thd), "SFDR": (lo_dose, lo_sfdr)},
    3: {"SINAD": unzip(ann1_sinad), "SNHR": unzip(ann1_snhr),
        "|THD|": unzip(ann1_thd), "SFDR": unzip(ann1_sfdr)},
    5: {"SINAD": (ann2_time, ann2_sinad), "SNHR": (ann2_time, ann2_snhr),
        "|THD|": unzip(ann2_thd), "SFDR": unzip(ann2_sfdr)},
}

hi_parts = {
    "SINAD": (hi_rise_sinad, hi_sinad, hi_first_sinad, [], []),
    "SNHR": (hi_rise_snhr, hi_snhr, hi_first_snhr, hi_dose_b, hi_snhr_b),
    "|THD|": (hi_rise_thd, hi_thd, hi_first_thd, hi_dose_b, hi_thd_b),
    "SFDR": (hi_rise_sfdr, hi_sfdr, hi_first_sfdr, hi_dose_b, hi_sfdr_b),
}
panel_series[4] = {}
for s, (rise, steady, first, xb, yb) in hi_parts.items():
    fxs, fys = unzip(first)
    panel_series[4][s] = (fxs + hi_rise_dose + hi_dose + xb + [hi_last_dose],
                          fys + rise + steady + yb + [hi_last[s]])

fig = go.Figure()

for i in range(1, 6):
    sfx = "" if i == 1 else str(i)
    for s in SERIES:
        xs, ys = panel_series[i][s]
        size = MS_CLOUD if (i == 4 and s in ("|THD|", "SFDR")) else MS
        fig.add_trace(go.Scatter(
            x=xs, y=ys, mode="markers", name=s, showlegend=False,
            xaxis="x" + sfx, yaxis="y" + sfx, hoverinfo="skip",
            marker=dict(symbol="square", size=size, color=COLORS[s], line=dict(width=0)),
        ))

# empty trace so the ENOB axis gets drawn
fig.add_trace(go.Scatter(x=[None], y=[None], xaxis="x5", yaxis="y6",
                         showlegend=False, hoverinfo="skip"))

layout = dict(
    width=W, height=H, margin=dict(l=0, r=0, t=0, b=0),
    paper_bgcolor="white", plot_bgcolor="white", showlegend=False,
    font=dict(family=FONT, size=22, color=TXT),
)

for i, ((x0, x1), rng, tv) in enumerate(zip(panel_px, x_ranges, x_tickvals), start=1):
    sfx = "" if i == 1 else str(i)
    layout["xaxis" + sfx] = dict(
        domain=[fx(x0), fx(x1)], range=rng, anchor="y" + sfx,
        showline=True, linecolor=AX, linewidth=2, mirror="ticks",
        ticks="inside" if tv else "", ticklen=13, tickwidth=2, tickcolor=AX,
        tickvals=tv, showticklabels=False,
        showgrid=bool(tv), gridcolor=GRID, gridwidth=1.3, griddash="4px,5px",
        zeroline=False, fixedrange=True,
    )
    layout["yaxis" + sfx] = dict(
        domain=[fy(BOT), fy(TOP)], range=[2, 80], anchor="x" + sfx,
        showline=True, linecolor=AX, linewidth=2, mirror="ticks",
        ticks="inside", ticklen=13, tickwidth=2, tickcolor=AX,
        tickvals=level_ticks, showticklabels=(i == 1),
        tickfont=dict(family=FONT, size=22, color=TXT), ticklabelstandoff=15,
        showgrid=True, gridcolor=GRID, gridwidth=1.3, griddash="4px,5px",
        zeroline=False, fixedrange=True,
    )

layout["yaxis6"] = dict(
    overlaying="y5", anchor="free", position=fx(1993), side="right",
    range=[0, 13], tickvals=enob_ticks, showline=True, linecolor=AX, linewidth=2,
    ticks="", showgrid=False, zeroline=False,
    tickfont=dict(family=FONT, size=22, color=TXT), ticklabelstandoff=10,
    fixedrange=True,
)

annotations = []


def text(x, y, s, size=22, color=TXT, family=FONT, xanchor="center", angle=0, raw=False):
    annotations.append(dict(
        x=fx(x), y=fy_raw(y) if raw else fy(y), xref="paper", yref="paper", text=s,
        showarrow=False, xanchor=xanchor, yanchor="middle", textangle=angle,
        font=dict(family=family, size=size, color=color),
    ))


# x tick labels, placed through each panel's own axis
xtick_specs = [
    (2, dose_lo_ticks, dose_lo_labels, [-11, -3, -3, -3]),
    (3, ann1_ticks, ann1_labels, [-12, -12, -12, -12, -12]),
    (4, dose_hi_ticks, dose_hi_labels, [-10, 0, 0, 0, 0, 0]),
    (5, ann2_ticks, ann2_labels, [-6, -12, -11, -12]),
]
for i, vals, labels, shifts in xtick_specs:
    for v, lab, sh in zip(vals, labels, shifts):
        annotations.append(dict(
            x=v, y=fy(1185), xref="x%d" % i, yref="paper", text=lab, showarrow=False,
            xanchor="center", yanchor="middle", xshift=sh,
            font=dict(family=FONT, size=22, color=TXT),
        ))

# panel headings
for x, s in [(154, "Prerad"), (362, "552.15 krad/h"), (668, "Annealing"),
             (1262, "7965 krad/h"), (1858, "Annealing")]:
    text(x, 38, s, size=23)

# axis titles (kept inside the page)
for x, s in [(364, "Dose [Rad]"), (668, "Time [m]"), (1262, "Dose [Rad]"), (1857, "Time [m]")]:
    text(x, 1232, s, size=23, raw=True)
text(26, 620, "Level [dB]", size=23, angle=-90)
text(2068, 622, "ENOB", size=23, angle=-90)
text(1992, 9, "ın2 Del7", size=23, color="#000000", xanchor="left", raw=True)

# key: label on the left, sample square on the right
shapes = []
for yk, s in zip([1051, 1081, 1110, 1139], SERIES):
    text(1587, yk, s, size=22, xanchor="right")
    shapes.append(dict(type="rect", xref="paper", yref="paper",
                       x0=fx(1646.5), x1=fx(1651.5), y0=fy(yk + 2.5), y1=fy(yk - 2.5),
                       fillcolor=COLORS[s], line=dict(width=0)))


# callout balloons
def callout(x0, y0, x1, y1, rx, ry, edge, a, b, tip):
    segs = [("M", [(x0 + rx, y0)])]
    if edge == "top":
        segs += [("L", [(a, y0)]), ("L", [tip]), ("L", [(b, y0)])]
    segs += [("L", [(x1 - rx, y0)]), ("Q", [(x1, y0), (x1, y0 + ry)]),
             ("L", [(x1, y1 - ry)]), ("Q", [(x1, y1), (x1 - rx, y1)])]
    if edge == "bottom":
        segs += [("L", [(b, y1)]), ("L", [tip]), ("L", [(a, y1)])]
    segs += [("L", [(x0 + rx, y1)]), ("Q", [(x0, y1), (x0, y1 - ry)]),
             ("L", [(x0, y0 + ry)]), ("Q", [(x0, y0), (x0 + rx, y0)])]
    path = " ".join(op + " " + " ".join("%.5f,%.5f" % (fx(px), fy(py)) for px, py in pts)
                    for op, pts in segs) + " Z"
    shapes.append(dict(type="path", xref="paper", yref="paper", path=path,
                       fillcolor="#729fcf", line=dict(color="#3465a4", width=1.2),
                       layer="above"))


callout(330, 137, 717, 268, 60, 20, "bottom", 395, 491, (296, 562))
callout(1158, 592, 1902, 731, 115, 22, "top", 1283, 1464, (1292, 389))
callout(975, 948, 1437, 1091, 72, 22, "top", 1047, 1166, (811, 834))

for x, y, s in [(517, 183, "ADC stopped working"), (514, 226, "after ~200 krad"),
                (1528, 663, "No significant degradation up to 500 Mrad"),
                (1199, 976, "Performance recovered"), (1199, 1022, "after several hours"),
                (1205, 1066, "of annealing")]:
    text(x, y, s, size=37, color="#000000", family=CALLOUT_FONT)

layout["annotations"] = annotations
layout["shapes"] = shapes
fig.update_layout(**layout)

fig.write_html("out.html", include_plotlyjs=True, full_html=True,
               config={"displayModeBar": False, "staticPlot": True})
